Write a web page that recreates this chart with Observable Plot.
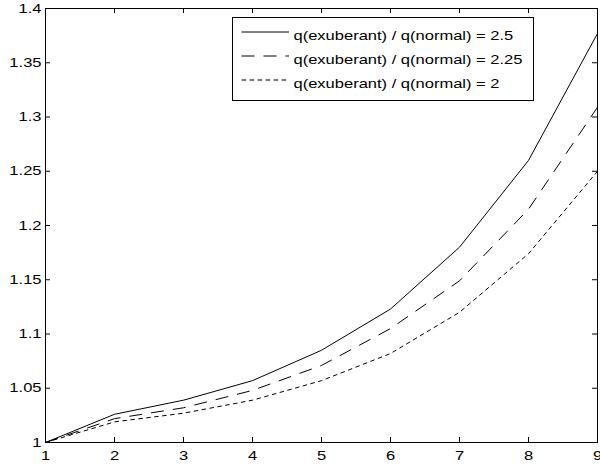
<!DOCTYPE html>
<html><head><meta charset="utf-8">
<script src="https://cdn.jsdelivr.net/npm/d3@7"></script>
<script src="https://cdn.jsdelivr.net/npm/@observablehq/plot@0.6"></script>
<style>
  html,body{margin:0;padding:0;background:#fff;}
  #chart{width:600px;height:468px;}
</style>
</head><body>
<div id="chart"></div>
<script>
// ---- data ----
const steps = [1, 2, 3, 4, 5, 6, 7, 8, 9];
const ratio25  = [1, 1.026, 1.039, 1.057, 1.085, 1.123, 1.180, 1.260, 1.377];
const ratio225 = [1, 1.022, 1.032, 1.048, 1.071, 1.105, 1.149, 1.215, 1.309];
const ratio2   = [1, 1.019, 1.027, 1.039, 1.057, 1.082, 1.120, 1.174, 1.250];
const seriesLabels = [
  "q(exuberant) / q(normal) = 2.5",
  "q(exuberant) / q(normal) = 2.25",
  "q(exuberant) / q(normal) = 2"
];
const xTicks = [1, 2, 3, 4, 5, 6, 7, 8, 9];
const xTickLabels = ["1", "2", "3", "4", "5", "6", "7", "8", "9"];
const yTicks = [1, 1.05, 1.1, 1.15, 1.2, 1.25, 1.3, 1.35, 1.4];
const yTickLabels = ["1", "1.05", "1.1", "1.15", "1.2", "1.25", "1.3", "1.35", "1.4"];

// ---- layout / style ----
const W = 600, H = 468, mL = 45, mR = 3, mT = 8, mB = 26;
const frameW = W - mL - mR, frameH = H - mT - mB, tickLen = 5;
const dashes = [null, "13,9", "4.5,3.5"];
const seriesValues = [ratio25, ratio225, ratio2];

const lineMarks = seriesValues.map((vals, k) =>
  Plot.line(steps.map((s, i) => ({step: s, value: vals[i]})), {
    x: "step", y: "value", stroke: "black", strokeWidth: 1,
    strokeLinecap: "butt", strokeLinejoin: "miter",
    ...(dashes[k] ? {strokeDasharray: dashes[k]} : {})
  })
);

const plot = Plot.plot({
  width: W, height: H,
  marginLeft: mL, marginRight: mR, marginTop: mT, marginBottom: mB,
  style: {fontFamily: "'Liberation Sans', Arial, sans-serif", fontSize: "13px", color: "black", background: "white"},
  x: {domain: [1, 9]},
  y: {domain: [1, 1.4]},
  marks: [
    ...lineMarks,
    // inward ticks on all four sides
    Plot.tickX(xTicks, {x: d => d, stroke: "black", insetTop: frameH - tickLen}),
    Plot.tickX(xTicks, {x: d => d, stroke: "black", insetBottom: frameH - tickLen}),
    Plot.tickY(yTicks, {y: d => d, stroke: "black", insetRight: frameW - tickLen}),
    Plot.tickY(yTicks, {y: d => d, stroke: "black", insetLeft: frameW - tickLen}),
    Plot.axisX(xTicks, {tickSize: 0, tickPadding: 8, label: null,
      tickFormat: d => xTickLabels[xTicks.indexOf(d)]}),
    Plot.axisY(yTicks, {tickSize: 0, tickPadding: 4, label: null,
      tickFormat: d => yTickLabels[yTicks.indexOf(d)]}),
    Plot.frame({stroke: "black", strokeWidth: 1})
  ]
});

document.getElementById("chart").appendChild(plot);

// ---- legend (inside axes, top right) ----
const svg = d3.select(plot);
const lg = svg.append("g")
  .attr("font-family", "'Liberation Sans', Arial, sans-serif")
  .attr("font-size", 13)
  .attr("text-anchor", "start");
const box = {x: 232.5, y: 17.5, w: 301, h: 83};
lg.append("rect").attr("x", box.x).attr("y", box.y).attr("width", box.w).attr("height", box.h)
  .attr("fill", "white").attr("stroke", "black").attr("stroke-width", 1);
seriesLabels.forEach((lab, k) => {
  const cy = 32 + 24 * k;
  const ln = lg.append("line").attr("x1", 241.5).attr("x2", 289).attr("y1", cy).attr("y2", cy)
    .attr("stroke", "black").attr("stroke-width", 1);
  if (dashes[k]) ln.attr("stroke-dasharray", dashes[k]);
  lg.append("text").attr("x", 293.5).attr("y", cy + 7.5)
    .attr("text-anchor", "start").attr("fill", "black").text(lab);
});

// the reference's lettering is horizontally wide: stretch each text a bit
plot.querySelectorAll("text").forEach(t => {
  const w = t.getComputedTextLength();
  if (w > 0) {
    t.setAttribute("textLength", (w * 1.27).toFixed(2));
    t.setAttribute("lengthAdjust", "spacingAndGlyphs");
  }
});
</script>
</body></html>
